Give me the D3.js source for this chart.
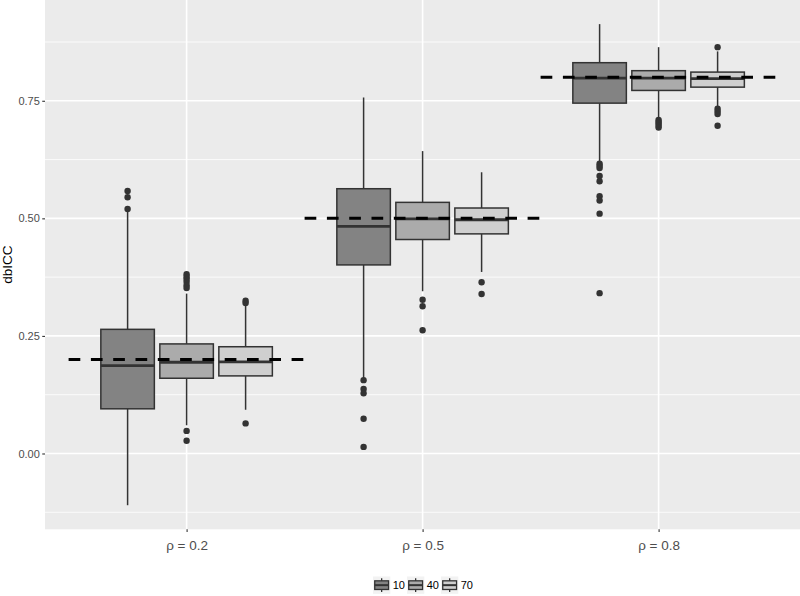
<!DOCTYPE html>
<html>
<head>
<meta charset="utf-8">
<script src="https://cdn.jsdelivr.net/npm/d3@7"></script>
<style>
  body { margin: 0; background: #ffffff; }
  svg { display: block; font-family: "Liberation Sans", Arial, Helvetica, sans-serif; }
</style>
</head>
<body>
<div id="chart"></div>
<script>
// Categories
const groups = ['ρ = 0.2', 'ρ = 0.5', 'ρ = 0.8'];
const trueRho = [0.2, 0.5, 0.8];
const sizes = ['10', '40', '70'];
const sizeFills = ['#838383', '#ababab', '#cfcfcf'];
const yTicks = [0, 0.25, 0.5, 0.75];
const yMinorTicks = [-0.125, 0.125, 0.375, 0.625, 0.875];

// Box statistics, one entry per (group, size): 0.2/10, 0.2/40, 0.2/70, 0.5/10, ...
const whiskerLo = [-0.110, 0.060, 0.093, 0.160, 0.345, 0.386, 0.620, 0.712, 0.737];
const q1        = [ 0.095, 0.160, 0.165, 0.401, 0.455, 0.467, 0.745, 0.772, 0.779];
const median    = [ 0.187, 0.194, 0.195, 0.483, 0.499, 0.497, 0.798, 0.798, 0.797];
const q3        = [ 0.264, 0.233, 0.227, 0.563, 0.534, 0.522, 0.831, 0.814, 0.811];
const whiskerHi = [ 0.517, 0.340, 0.315, 0.757, 0.643, 0.598, 0.913, 0.864, 0.855];
const outliers = [
    [0.558, 0.545, 0.520],
    [0.381, 0.376, 0.371, 0.365, 0.358, 0.352, 0.048, 0.027],
    [0.325, 0.320, 0.064],
    [0.156, 0.137, 0.128, 0.074, 0.014],
    [0.327, 0.313, 0.262],
    [0.364, 0.339],
    [0.616, 0.612, 0.607, 0.590, 0.579, 0.547, 0.538, 0.510, 0.341],
    [0.709, 0.705, 0.701, 0.697, 0.693],
    [0.864, 0.733, 0.728, 0.722, 0.697]
];

const width = 800;
const height = 596;
const panel = { left: 45, top: 0, right: 800.2, bottom: 529.3 };

const svg = d3.select('#chart')
    .append('svg')
    .attr('width', width)
    .attr('height', height);

// Scales
const xScale = d3.scalePoint()
    .domain(groups)
    .range([panel.left, panel.right])
    .padding(0.6);

const dodge = d3.scaleBand()
    .domain(sizes)
    .range([-xScale.step() * 0.375, xScale.step() * 0.375]);

const boxWidth = dodge.bandwidth() * 0.907;

const yScale = d3.scaleLinear()
    .domain([-0.1612, 0.9643])
    .range([panel.bottom, panel.top]);

// Panel background
svg.append('rect')
    .attr('x', panel.left)
    .attr('y', panel.top)
    .attr('width', panel.right - panel.left)
    .attr('height', panel.bottom - panel.top)
    .attr('fill', '#ebebeb');

// Grid lines
const grid = svg.append('g').attr('class', 'grid');
grid.selectAll('line.minor')
    .data(yMinorTicks)
    .enter()
    .append('line')
    .attr('class', 'minor')
    .attr('x1', panel.left).attr('x2', panel.right)
    .attr('y1', d => yScale(d)).attr('y2', d => yScale(d))
    .attr('stroke', '#ffffff')
    .attr('stroke-width', 0.8);

grid.selectAll('line.major')
    .data(yTicks)
    .enter()
    .append('line')
    .attr('class', 'major')
    .attr('x1', panel.left).attr('x2', panel.right)
    .attr('y1', d => yScale(d)).attr('y2', d => yScale(d))
    .attr('stroke', '#ffffff')
    .attr('stroke-width', 1.6);

grid.selectAll('line.vmajor')
    .data(groups)
    .enter()
    .append('line')
    .attr('class', 'vmajor')
    .attr('x1', d => xScale(d)).attr('x2', d => xScale(d))
    .attr('y1', panel.top).attr('y2', panel.bottom)
    .attr('stroke', '#ffffff')
    .attr('stroke-width', 1.6);

// Flatten box data
const boxes = [];
groups.forEach((g, gi) => {
    sizes.forEach((s, si) => {
        const i = gi * sizes.length + si;
        boxes.push({
            group: g, size: s, fill: sizeFills[si],
            lo: whiskerLo[i], q1: q1[i], med: median[i], q3: q3[i], hi: whiskerHi[i],
            out: outliers[i]
        });
    });
});

const boxG = svg.append('g').attr('class', 'boxes')
    .selectAll('g')
    .data(boxes)
    .enter()
    .append('g')
    .attr('transform', d => `translate(${xScale(d.group) + dodge(d.size) + dodge.bandwidth() / 2},0)`);

// Whiskers
boxG.append('line')
    .attr('x1', 0).attr('x2', 0)
    .attr('y1', d => yScale(d.q3)).attr('y2', d => yScale(d.hi))
    .attr('stroke', '#333333').attr('stroke-width', 1.5);
boxG.append('line')
    .attr('x1', 0).attr('x2', 0)
    .attr('y1', d => yScale(d.q1)).attr('y2', d => yScale(d.lo))
    .attr('stroke', '#333333').attr('stroke-width', 1.5);

// Boxes
boxG.append('rect')
    .attr('x', -boxWidth / 2)
    .attr('width', boxWidth)
    .attr('y', d => yScale(d.q3))
    .attr('height', d => yScale(d.q1) - yScale(d.q3))
    .attr('fill', d => d.fill)
    .attr('stroke', '#333333')
    .attr('stroke-width', 1.5);

// Medians
boxG.append('line')
    .attr('x1', -boxWidth / 2).attr('x2', boxWidth / 2)
    .attr('y1', d => yScale(d.med)).attr('y2', d => yScale(d.med))
    .attr('stroke', '#333333').attr('stroke-width', 2.8);

// Outliers
boxG.selectAll('circle')
    .data(d => d.out)
    .enter()
    .append('circle')
    .attr('cx', 0)
    .attr('cy', d => yScale(d))
    .attr('r', 3.2)
    .attr('fill', '#333333');

// True value dashed reference lines
svg.append('g').attr('class', 'ref')
    .selectAll('line')
    .data(groups)
    .enter()
    .append('line')
    .attr('x1', d => xScale(d) - xScale.step() * 0.5)
    .attr('x2', d => xScale(d) + xScale.step() * 0.5)
    .attr('y1', (d, i) => yScale(trueRho[i]))
    .attr('y2', (d, i) => yScale(trueRho[i]))
    .attr('stroke', '#000000')
    .attr('stroke-width', 3)
    .attr('stroke-dasharray', '11.7,10.6');

// Y axis
const yAxis = d3.axisLeft(yScale)
    .tickValues(yTicks)
    .tickFormat(d3.format('.2f'))
    .tickSize(2.75)
    .tickPadding(2.4);
const yAxisG = svg.append('g')
    .attr('transform', `translate(${panel.left},0)`)
    .call(yAxis);
yAxisG.select('.domain').remove();
yAxisG.selectAll('line').attr('stroke', '#333333').attr('stroke-width', 1.1);
yAxisG.selectAll('text').attr('fill', '#4d4d4d').style('font-size', '11px');

// X axis
const xAxis = d3.axisBottom(xScale)
    .tickSize(2.75)
    .tickPadding(8.5);
const xAxisG = svg.append('g')
    .attr('transform', `translate(0,${panel.bottom})`)
    .call(xAxis);
xAxisG.select('.domain').remove();
xAxisG.selectAll('line').attr('stroke', '#333333').attr('stroke-width', 1.1);
xAxisG.selectAll('text').attr('fill', '#4d4d4d').style('font-size', '13.5px');

// Y axis title
svg.append('text')
    .attr('transform', `translate(12,${(panel.top + panel.bottom) / 2}) rotate(-90)`)
    .style('text-anchor', 'middle')
    .style('font-size', '13.5px')
    .attr('fill', '#000000')
    .text('dbICC');

// Legend
const keySize = 17.3;
const legend = svg.append('g')
    .attr('transform', `translate(373,${576.5})`);
const item = legend.selectAll('g')
    .data(sizes)
    .enter()
    .append('g')
    .attr('transform', (d, i) => `translate(${i * 34},0)`);

item.append('rect')
    .attr('width', keySize).attr('height', keySize)
    .attr('fill', '#f2f2f2');
item.append('line')
    .attr('x1', keySize / 2).attr('x2', keySize / 2)
    .attr('y1', keySize * 0.1).attr('y2', keySize * 0.9)
    .attr('stroke', '#333333').attr('stroke-width', 1.3);
item.append('rect')
    .attr('x', keySize * 0.1).attr('y', keySize * 0.25)
    .attr('width', keySize * 0.8).attr('height', keySize * 0.5)
    .attr('fill', (d, i) => sizeFills[i])
    .attr('stroke', '#333333').attr('stroke-width', 1.3);
item.append('line')
    .attr('x1', keySize * 0.1).attr('x2', keySize * 0.9)
    .attr('y1', keySize / 2).attr('y2', keySize / 2)
    .attr('stroke', '#333333').attr('stroke-width', 2);
item.append('text')
    .attr('x', keySize + 2.4)
    .attr('y', keySize / 2)
    .attr('dy', '0.36em')
    .style('font-size', '11px')
    .attr('fill', '#000000')
    .text(d => d);
</script>
</body>
</html>
